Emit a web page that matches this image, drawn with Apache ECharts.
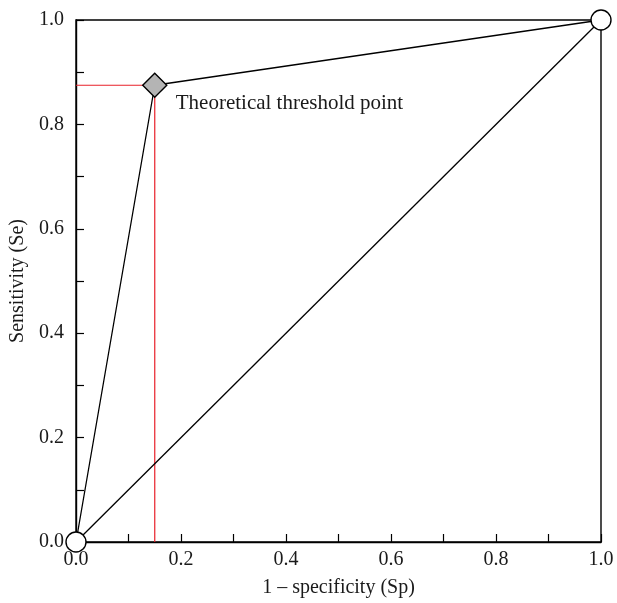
<!DOCTYPE html>
<html>
<head>
<meta charset="utf-8">
<script src="https://cdn.jsdelivr.net/npm/echarts@6/dist/echarts.min.js"></script>
<style>
html, body { margin: 0; padding: 0; background: #fff; }
#chart { width: 617px; height: 603px; }
</style>
</head>
<body>
<div id="chart"></div>
<script>
// data
var endPoints = [[0, 0], [1, 1]];
var thresholdPoint = [0.15, 0.875];
var rocCurve = [[0, 0], [0.15, 0.875], [1, 1]];
var diagonal = [[0, 0], [1, 1]];
var redHorizontal = [[0, 0.875], [0.15, 0.875]];
var redVertical = [[0.15, 0], [0.15, 0.875]];
var thresholdLabel = 'Theoretical threshold point';

var myChart = echarts.init(document.getElementById('chart'));

var font = 'Liberation Serif';

function tickLabel(v) {
    // only every other tick gets a label
    if (Math.round(v * 10) % 2 !== 0) return '';
    return v.toFixed(1);
}

function axis(name, gap, margin) {
    return {
        type: 'value',
        min: 0,
        max: 1,
        interval: 0.1,
        name: name,
        nameLocation: 'middle',
        nameGap: gap,
        nameTextStyle: { color: '#1a1a1a', fontFamily: font, fontSize: 20 },
        axisLine: { show: true, lineStyle: { color: '#000', width: 1.4 } },
        axisTick: { show: true, inside: true, length: 8, lineStyle: { color: '#000', width: 1.2 } },
        axisLabel: { color: '#1a1a1a', fontFamily: font, fontSize: 20, margin: margin, formatter: tickLabel },
        splitLine: { show: false }
    };
}

var option = {
    animation: false,
    grid: { left: 76, right: 16, top: 20, bottom: 58, show: true, borderColor: '#000', borderWidth: 1.4, backgroundColor: 'transparent' },
    xAxis: axis('1 \u2013 specificity (Sp)', 36, 8),
    yAxis: axis('Sensitivity (Se)', 46, 12),
    series: [
        {
            type: 'line',
            data: redHorizontal,
            symbol: 'none',
            lineStyle: { color: '#e8202a', width: 1.2 },
            z: 2
        },
        {
            type: 'line',
            data: redVertical,
            symbol: 'none',
            lineStyle: { color: '#e8202a', width: 1.2 },
            z: 2
        },
        {
            type: 'line',
            data: diagonal,
            symbol: 'none',
            lineStyle: { color: '#000', width: 1.3 },
            z: 3
        },
        {
            type: 'line',
            data: rocCurve,
            symbol: 'none',
            lineStyle: { color: '#000', width: 1.3 },
            z: 3
        },
        {
            type: 'scatter',
            data: endPoints,
            symbol: 'circle',
            symbolSize: 20,
            clip: false,
            itemStyle: { color: '#fff', opacity: 1, borderColor: '#000', borderWidth: 1.4 },
            z: 5
        },
        {
            type: 'scatter',
            data: [thresholdPoint],
            symbol: 'rect',
            symbolRotate: 45,
            symbolSize: 17,
            clip: false,
            itemStyle: { color: '#b4b4b4', opacity: 1, borderColor: '#000', borderWidth: 1.4 },
            label: {
                show: true,
                position: 'right',
                distance: 8,
                offset: [0, 18],
                formatter: thresholdLabel,
                color: '#1a1a1a',
                fontFamily: font,
                fontSize: 21
            },
            z: 6
        }
    ]
};

myChart.setOption(option);
</script>
</body>
</html>
